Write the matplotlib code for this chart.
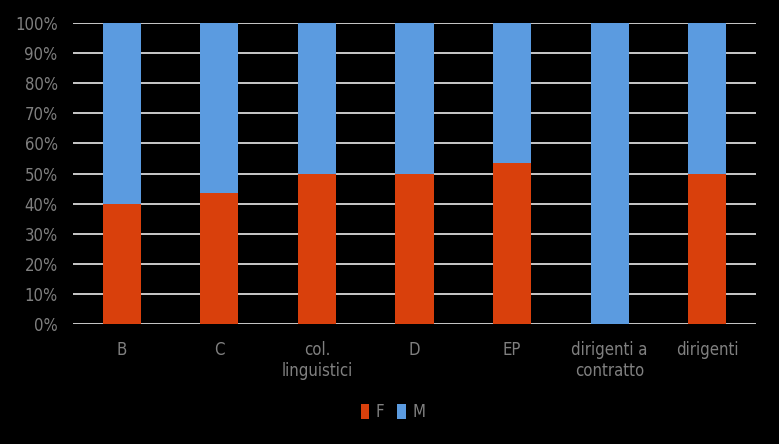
import numpy as np
import matplotlib.pyplot as plt
from matplotlib.ticker import PercentFormatter

categories = ["B", "C", "col.\nlinguistici", "D", "EP", "dirigenti a\ncontratto", "dirigenti"]
f_share = [40.0, 43.5, 50.0, 50.0, 53.4, 0.0, 50.0]
m_share = [100 - v for v in f_share]

plt.rcParams["font.family"] = ["DejaVu Sans"]
plt.rcParams["font.stretch"] = "condensed"

text_color = "#808080"
red = "#d9400c"
blue = "#5b9be0"

fig = plt.figure(figsize=(7.79, 4.44), dpi=100, facecolor="black")
ax = fig.add_axes([73 / 779, 1 - 324 / 444, 683 / 779, 301 / 444], facecolor="black")

x = np.arange(len(categories))
ax.bar(x, f_share, width=0.39, color=red, label="F", zorder=3)
ax.bar(x, m_share, width=0.39, bottom=f_share, color=blue, label="M", zorder=3)

ax.set_xlim(-0.5, len(categories) - 0.5)
ax.set_ylim(0, 100)
ax.set_yticks(np.arange(0, 101, 10))
ax.yaxis.set_major_formatter(PercentFormatter(decimals=0))
ax.grid(axis="y", color="#d9d9d9", linewidth=1.3, zorder=0)
ax.set_xticks(x)
ax.set_xticklabels(categories, linespacing=1.25)
ax.tick_params(axis="both", length=0, colors=text_color, labelsize=12)
ax.tick_params(axis="x", pad=12)
ax.tick_params(axis="y", pad=11)
for spine in ax.spines.values():
    spine.set_visible(False)

leg = fig.legend(loc="center", bbox_to_anchor=(393 / 779, 1 - 412 / 444), ncol=2,
                 frameon=False, fontsize=12, handlelength=0.5, handleheight=1.0,
                 handletextpad=0.4, columnspacing=0.8)
for t in leg.get_texts():
    t.set_color(text_color)

fig.savefig("out.png", dpi=100, facecolor="black")
